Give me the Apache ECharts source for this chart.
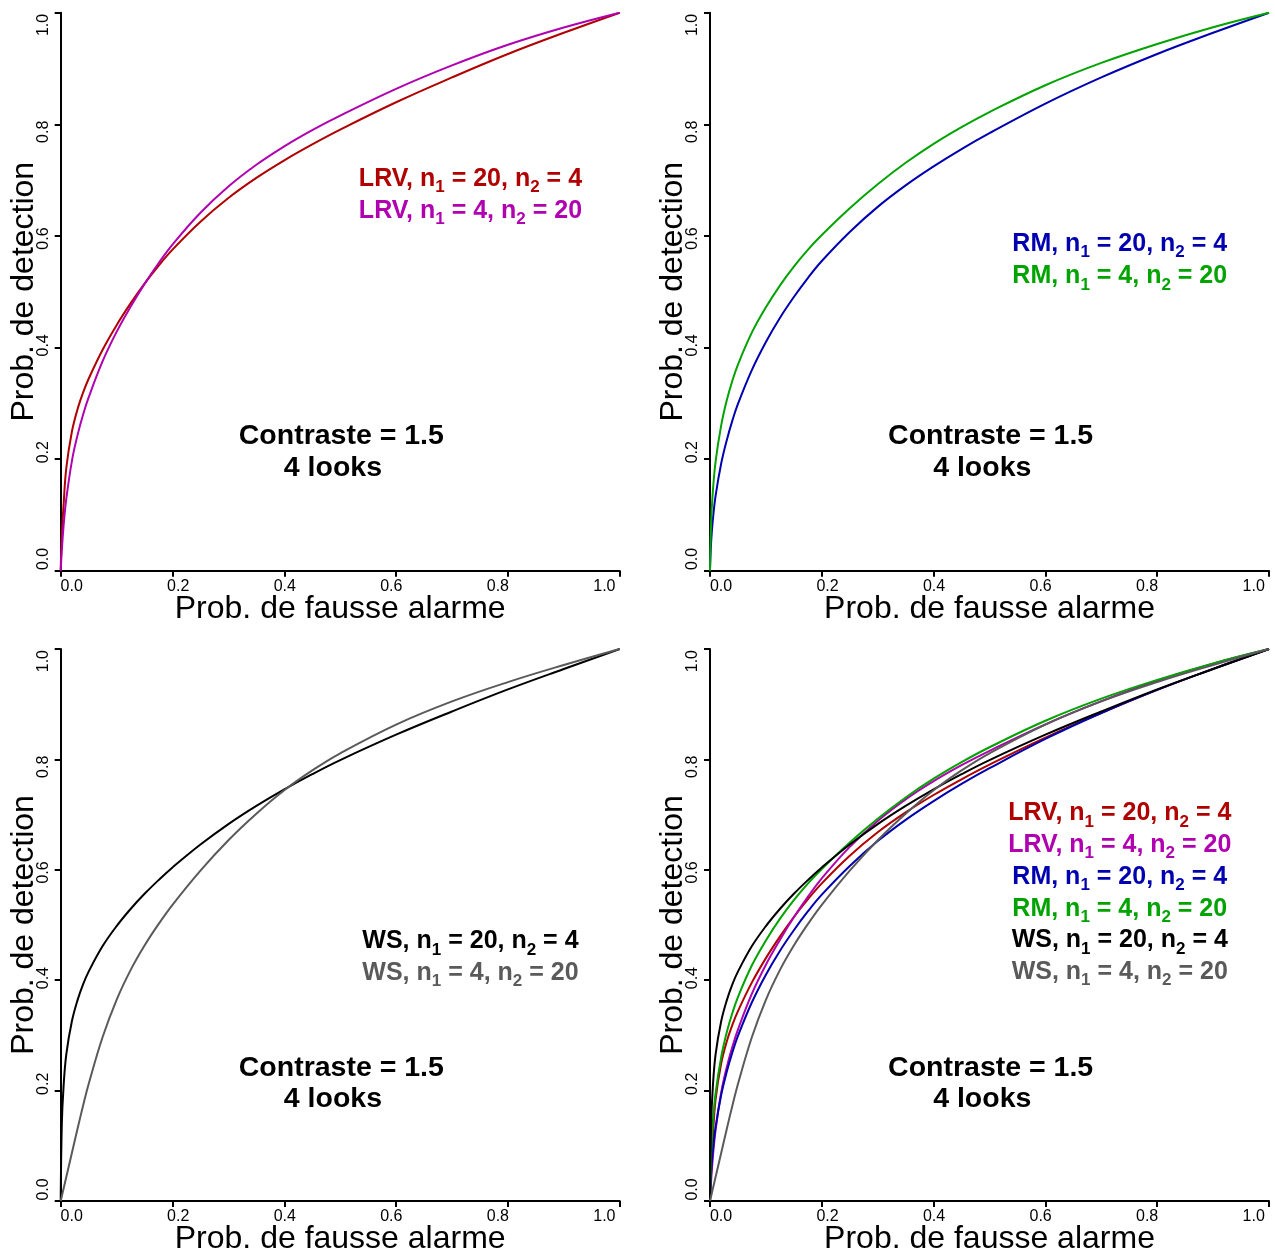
<!DOCTYPE html>
<html>
<head>
<meta charset="utf-8">
<script src="https://cdn.jsdelivr.net/npm/echarts@6/dist/echarts.min.js"></script>
<style>html,body{margin:0;padding:0;background:#fff}#c{width:1275px;height:1256px}</style>
</head>
<body>
<div id="c"></div>
<script>
// ---- data ----
const fa = [0, 0.002, 0.005, 0.01, 0.02, 0.03, 0.04, 0.05, 0.075, 0.1, 0.125, 0.15, 0.175, 0.2, 0.25, 0.3, 0.35, 0.4, 0.45, 0.5, 0.6, 0.7, 0.8, 0.9, 1.0];
const lrv20 = [0, 0.065, 0.115, 0.184, 0.249, 0.289, 0.319, 0.344, 0.396, 0.44, 0.479, 0.5145, 0.5465, 0.5755, 0.6255, 0.668, 0.704, 0.7355, 0.764, 0.7905, 0.8395, 0.884, 0.926, 0.964, 1];
const lrv4  = [0, 0.0365, 0.0785, 0.1285, 0.1965, 0.2425, 0.2795, 0.3105, 0.3755, 0.428, 0.473, 0.514, 0.551, 0.5845, 0.6415, 0.6885, 0.7275, 0.7605, 0.7895, 0.8155, 0.8635, 0.9055, 0.9425, 0.9735, 1];
const rm20  = [0, 0.051, 0.09, 0.134, 0.192, 0.234, 0.269, 0.299, 0.36, 0.41, 0.453, 0.4905, 0.5245, 0.555, 0.607, 0.652, 0.6905, 0.7245, 0.7555, 0.784, 0.837, 0.884, 0.926, 0.964, 1];
const rm4   = [0, 0.0865, 0.1405, 0.1955, 0.2605, 0.3055, 0.3405, 0.3695, 0.427, 0.472, 0.511, 0.545, 0.575, 0.6015, 0.6495, 0.6925, 0.731, 0.765, 0.795, 0.822, 0.87, 0.91, 0.944, 0.974, 1];
const ws20  = [0, 0.1395, 0.2055, 0.2655, 0.3255, 0.3635, 0.3925, 0.4155, 0.4618, 0.498, 0.529, 0.5565, 0.5813, 0.6043, 0.6458, 0.6828, 0.7158, 0.7458, 0.7733, 0.7988, 0.8448, 0.8868, 0.9268, 0.9638, 1];
const ws4   = [0, 0.0087, 0.0218, 0.0435, 0.087, 0.1305, 0.1725, 0.212, 0.297, 0.3645, 0.4183, 0.4628, 0.5015, 0.5365, 0.5985, 0.6535, 0.7015, 0.744, 0.78, 0.811, 0.863, 0.905, 0.94, 0.971, 1];
const tickValues = [0, 0.2, 0.4, 0.6, 0.8, 1.0];
const xTitle = 'Prob. de fausse alarme';
const yTitle = 'Prob. de detection';
const noteLine1 = 'Contraste = 1.5';
const noteLine2 = '4 looks';
// legend entries: [method, n1, n2]
const curveLabels = {
  lrv20: ['LRV', '20', '4'], lrv4: ['LRV', '4', '20'],
  rm20: ['RM', '20', '4'],   rm4: ['RM', '4', '20'],
  ws20: ['WS', '20', '4'],   ws4: ['WS', '4', '20']
};
const curveValues = { lrv20, lrv4, rm20, rm4, ws20, ws4 };
const panelCurves = [['lrv20', 'lrv4'], ['rm20', 'rm4'], ['ws20', 'ws4'], ['lrv20', 'lrv4', 'rm20', 'rm4', 'ws20', 'ws4']];
// ---- styles ----
const colors = { lrv20: '#B00000', lrv4: '#B000B0', rm20: '#0000B0', rm4: '#00A300', ws20: '#000000', ws4: '#5A5A5A' };
const FONT = "'Liberation Sans', Arial, Helvetica, sans-serif";
const gridsPx = [
  { left: 60.7, top: 12.7 }, { left: 710, top: 12.7 },
  { left: 60.7, top: 649 }, { left: 710, top: 649 }
];
const legendStartY = [0.702, 0.585, 0.470, 0.702];
const legendStep = 0.0575;

const option = { animation: false, backgroundColor: '#fff', grid: [], xAxis: [], yAxis: [], series: [] };

function textLabel(formatter, extra) {
  return Object.assign({
    show: true, position: [0.5, 0.5], align: 'center', verticalAlign: 'middle', opacity: 1,
    formatter: formatter, textBorderWidth: 0, textShadowBlur: 0
  }, extra);
}

gridsPx.forEach((g, i) => {
  option.grid.push({ left: g.left, top: g.top, width: 559, height: 558, containLabel: false });
  option.xAxis.push({
    gridIndex: i, type: 'value', min: 0, max: 1, interval: 0.2, position: 'bottom',
    axisLine: { show: true, onZero: false, lineStyle: { color: '#000', width: 2 } },
    axisTick: { show: true, length: 6, lineStyle: { color: '#000', width: 2 } },
    axisLabel: { show: false }, splitLine: { show: false },
    name: xTitle, nameLocation: 'middle', nameGap: 22,
    nameTextStyle: { fontSize: 32, color: '#000', fontFamily: FONT }
  });
  option.xAxis.push({
    gridIndex: i, type: 'value', min: -0.02065, max: 1.02875, position: 'bottom',
    axisLine: { show: false, onZero: false }, axisTick: { show: false }, splitLine: { show: false },
    axisLabel: { show: true, customValues: tickValues, formatter: v => v.toFixed(1),
      fontSize: 16, color: '#000', fontFamily: FONT, margin: 8 }
  });
  option.yAxis.push({
    gridIndex: i, type: 'value', min: 0, max: 1, interval: 0.2, position: 'left',
    axisLine: { show: true, onZero: false, lineStyle: { color: '#000', width: 2 } },
    axisTick: { show: true, length: 6, lineStyle: { color: '#000', width: 2 } },
    axisLabel: { show: false }, splitLine: { show: false },
    name: yTitle, nameLocation: 'middle', nameGap: 21,
    nameTextStyle: { fontSize: 32, color: '#000', fontFamily: FONT }
  });
  option.yAxis.push({
    gridIndex: i, type: 'value', min: -0.02191, max: 1.0230, position: 'left',
    axisLine: { show: false, onZero: false }, axisTick: { show: false }, splitLine: { show: false },
    axisLabel: { show: true, customValues: tickValues, formatter: v => v.toFixed(1), rotate: 90,
      fontSize: 16, color: '#000', fontFamily: FONT, margin: 9 }
  });

  // curves
  panelCurves[i].forEach(key => {
    option.series.push({
      type: 'line', xAxisIndex: 2 * i, yAxisIndex: 2 * i,
      data: fa.map((x, k) => [x, curveValues[key][k]]),
      showSymbol: false, symbol: 'none', smooth: 0.4,
      lineStyle: { color: colors[key], width: 2 }, silent: true, z: 2
    });
  });

  // text annotations placed in data coordinates
  const items = [];
  panelCurves[i].forEach((key, j) => {
    const c = colors[key];
    const [m, a, b] = curveLabels[key];
    items.push({
      value: [0.733, legendStartY[i] - j * legendStep],
      label: textLabel(`{m|${m}, n}{s|1}{m| = ${a}, n}{s|2}{m| = ${b}}`, {
        rich: {
          m: { fontSize: 25, fontWeight: 'bold', color: c, fontFamily: FONT, textBorderWidth: 0, opacity: 1 },
          s: { fontSize: 17, fontWeight: 'bold', color: c, fontFamily: FONT, textBorderWidth: 0, opacity: 1, padding: [17, 0, 0, 0] }
        }
      })
    });
  });
  items.push({ value: [0.502, 0.2414], label: textLabel(noteLine1,
    { fontSize: 28.5, fontWeight: 'bold', color: '#000', fontFamily: FONT }) });
  items.push({ value: [0.487, 0.184], label: textLabel(noteLine2,
    { fontSize: 28.5, fontWeight: 'bold', color: '#000', fontFamily: FONT }) });
  option.series.push({
    type: 'scatter', xAxisIndex: 2 * i, yAxisIndex: 2 * i, symbolSize: 1, silent: true, z: 5,
    data: items, itemStyle: { color: 'rgba(255,255,255,0)', opacity: 1 }
  });
});

const chart = echarts.init(document.getElementById('c'), null, { renderer: 'canvas' });
chart.setOption(option);
</script>
</body>
</html>
